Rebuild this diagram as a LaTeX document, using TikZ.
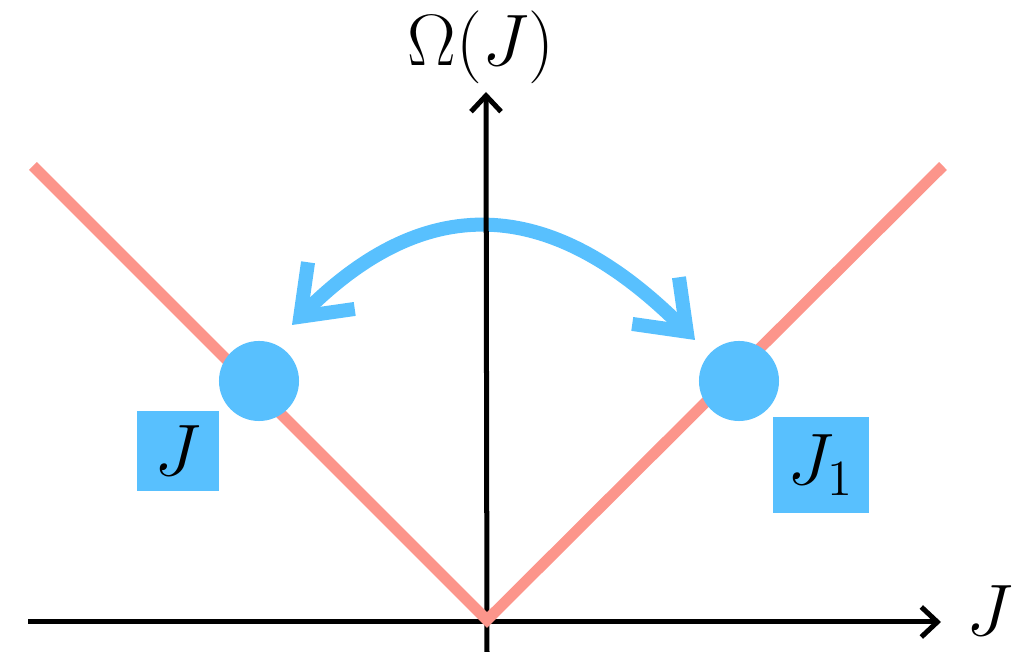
\documentclass[tikz,border=0pt]{standalone}
\usepackage{xcolor}
\usepackage{tikz}
\usetikzlibrary{positioning, arrows.meta}
\definecolor{swapBlue}{HTML}{58C0FE}
\definecolor{modeSalmon}{HTML}{FC958B}
\definecolor{axisBlack}{HTML}{000000}

\begin{document}
\begin{tikzpicture}[
  x=0.01cm, y=-0.01cm,
  every node/.style={font=\fontsize{22}{26}\selectfont},
  axis/.style={
    draw=axisBlack, line width=0.05cm,
    -{Straight Barb[length=0.16cm, width=0.3cm]}
  },
  branch/.style={draw=modeSalmon, line width=0.11cm},
  state/.style={
    circle, fill=swapBlue, minimum size=0.8cm, inner sep=0pt
  },
  tag/.style={
    rectangle, fill=swapBlue, inner sep=0pt, align=center
  },
  swap/.style={
    draw=swapBlue, line width=0.14cm,
    {Straight Barb[length=0.44cm, width=0.66cm]}-{Straight Barb[length=0.44cm, width=0.66cm]}
  },
]
\useasboundingbox (0,0) rectangle (1020,652);

% Axes ends
\coordinate (xstart) at (28,622);
\coordinate (xend) at (941,622);
\coordinate (ystart) at (487,652);
\coordinate (yend) at (486,92);
\coordinate (vertex) at (487,620);
\coordinate (lefttop) at (33,166);
\coordinate (righttop) at (943,166);

% Arc ends
\coordinate (swapl) at (292,325);
\coordinate (swapr) at (695,340);

% Swap arrow
\draw[swap] (swapl) .. controls (431,186) and (556,201) .. (swapr);

% Axes
\draw[axis] (xstart) -- (xend);
\draw[axis] (ystart) -- (yend);
\node (xlab) at (990,611) {$J$};
\node (ylab) at (481,47) {$\Omega(J)$};

% V-shaped branch
\draw[branch] (lefttop) -- (vertex) -- (righttop);

% States
\node[state] (jdot) at (259,381) {};
\node[state] (jonedot) at (739,381) {};
\node[tag, minimum width=0.82cm, minimum height=0.8cm] (jlab) at (178,451) {$J$};
\node[tag, minimum width=0.96cm, minimum height=0.96cm] (jonelab) at (821,465) {$J_1$};

\end{tikzpicture}
\end{document}
